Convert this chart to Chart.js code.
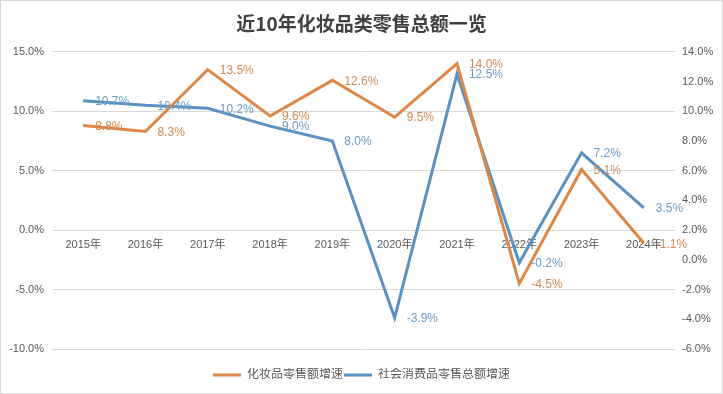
<!DOCTYPE html>
<html>
<head>
<meta charset="utf-8">
<script src="https://cdn.jsdelivr.net/npm/chart.js@4"></script>
<style>
  html, body { margin: 0; padding: 0; background: #fff; }
  #wrap { width: 723px; height: 394px; position: relative; }
</style>
</head>
<body>
<div id="wrap"><canvas id="chart"></canvas></div>
<script>
const years = ["2015年", "2016年", "2017年", "2018年", "2019年", "2020年", "2021年", "2022年", "2023年", "2024年"];
const cosmeticsGrowth = [8.8, 8.3, 13.5, 9.6, 12.6, 9.5, 14.0, -4.5, 5.1, -1.1];
const retailGrowth = [10.7, 10.4, 10.2, 9.0, 8.0, -3.9, 12.5, -0.2, 7.2, 3.5];
const leftTicks = [-10, -5, 0, 5, 10, 15];
const rightTicks = [-6, -4, -2, 0, 2, 4, 6, 8, 10, 12, 14];

const ORANGE = "#DC8748";
const BLUE = "#5B91C1";
const FONT = "'Liberation Sans', 'Noto Sans CJK SC', sans-serif";

// value labels to the right of each point, like Excel's "right" position
const pointLabels = {
  id: "pointLabels",
  afterDatasetsDraw(chart) {
    const ctx = chart.ctx;
    ctx.save();
    ctx.font = "12px " + FONT;
    ctx.textAlign = "left";
    ctx.textBaseline = "middle";
    chart.data.datasets.forEach((ds, i) => {
      const meta = chart.getDatasetMeta(i);
      ctx.fillStyle = ds.labelColor;
      meta.data.forEach((pt, j) => {
        ctx.fillText(ds.data[j].toFixed(1) + "%", pt.x + 12, pt.y + 1);
      });
    });
    ctx.restore();
  },
};

const frame = {
  id: "frame",
  beforeDraw(chart) {
    const ctx = chart.ctx;
    ctx.save();
    ctx.fillStyle = "#fff";
    ctx.fillRect(0, 0, chart.width, chart.height);
    ctx.strokeStyle = "#d9d9d9";
    ctx.lineWidth = 1;
    ctx.strokeRect(0.5, 0.5, chart.width - 1, chart.height - 1);
    ctx.restore();
  },
};

new Chart(document.getElementById("chart"), {
  type: "line",
  data: {
    labels: years,
    datasets: [
      {
        label: "化妆品零售额增速",
        data: cosmeticsGrowth,
        yAxisID: "y",
        borderColor: ORANGE,
        backgroundColor: ORANGE,
        labelColor: "#D08A55",
        borderWidth: 3,
        pointRadius: 0,
        tension: 0,
      },
      {
        label: "社会消费品零售总额增速",
        data: retailGrowth,
        yAxisID: "y1",
        borderColor: BLUE,
        backgroundColor: BLUE,
        labelColor: "#6A9AC6",
        borderWidth: 3,
        pointRadius: 0,
        tension: 0,
      },
    ],
  },
  options: {
    responsive: true,
    maintainAspectRatio: false,
    animation: false,
    layout: { padding: { left: 0, right: 0, top: 0, bottom: 3 } },
    plugins: {
      title: {
        display: true,
        text: "近10年化妆品类零售总额一览",
        color: "#404040",
        font: { family: "'Noto Sans CJK SC', sans-serif", size: 19, weight: "bold" },
        padding: { top: 12, bottom: 17 },
      },
      legend: {
        position: "bottom",
        labels: {
          color: "#595959",
          font: { family: FONT, size: 12 },
          usePointStyle: true,
          pointStyle: "line",
          pointStyleWidth: 28,
          padding: 1,
        },
      },
      tooltip: { enabled: false },
    },
    scales: {
      x: {
        type: "category",
        position: { y: 0 },
        offset: true,
        grid: { display: false, drawTicks: false },
        border: { display: false },
        ticks: {
          color: "#595959",
          font: { family: FONT, size: 11 },
          padding: 8,
          maxRotation: 0,
          autoSkip: false,
        },
      },
      spacer: {
        type: "category",
        labels: years,
        position: "bottom",
        grid: { display: false, drawTicks: false },
        border: { display: false },
        ticks: { display: false },
        afterFit: (s) => { s.height = 19; },
      },
      y: {
        position: "left",
        min: leftTicks[0],
        max: leftTicks[leftTicks.length - 1],
        afterBuildTicks: (s) => { s.ticks = leftTicks.map((v) => ({ value: v })); },
        afterFit: (s) => { s.width = 52; },
        grid: { color: "#d9d9d9", drawTicks: false },
        border: { display: false },
        ticks: {
          color: "#595959",
          font: { family: FONT, size: 11 },
          padding: 8,
          callback: (v) => v.toFixed(1) + "%",
        },
      },
      y1: {
        position: "right",
        min: rightTicks[0],
        max: rightTicks[rightTicks.length - 1],
        afterBuildTicks: (s) => { s.ticks = rightTicks.map((v) => ({ value: v })); },
        afterFit: (s) => { s.width = 48; },
        grid: { display: false, drawTicks: false },
        border: { display: false },
        ticks: {
          color: "#595959",
          font: { family: FONT, size: 11 },
          padding: 7,
          callback: (v) => v.toFixed(1) + "%",
        },
      },
    },
  },
  plugins: [frame, pointLabels],
});
</script>
</body>
</html>
